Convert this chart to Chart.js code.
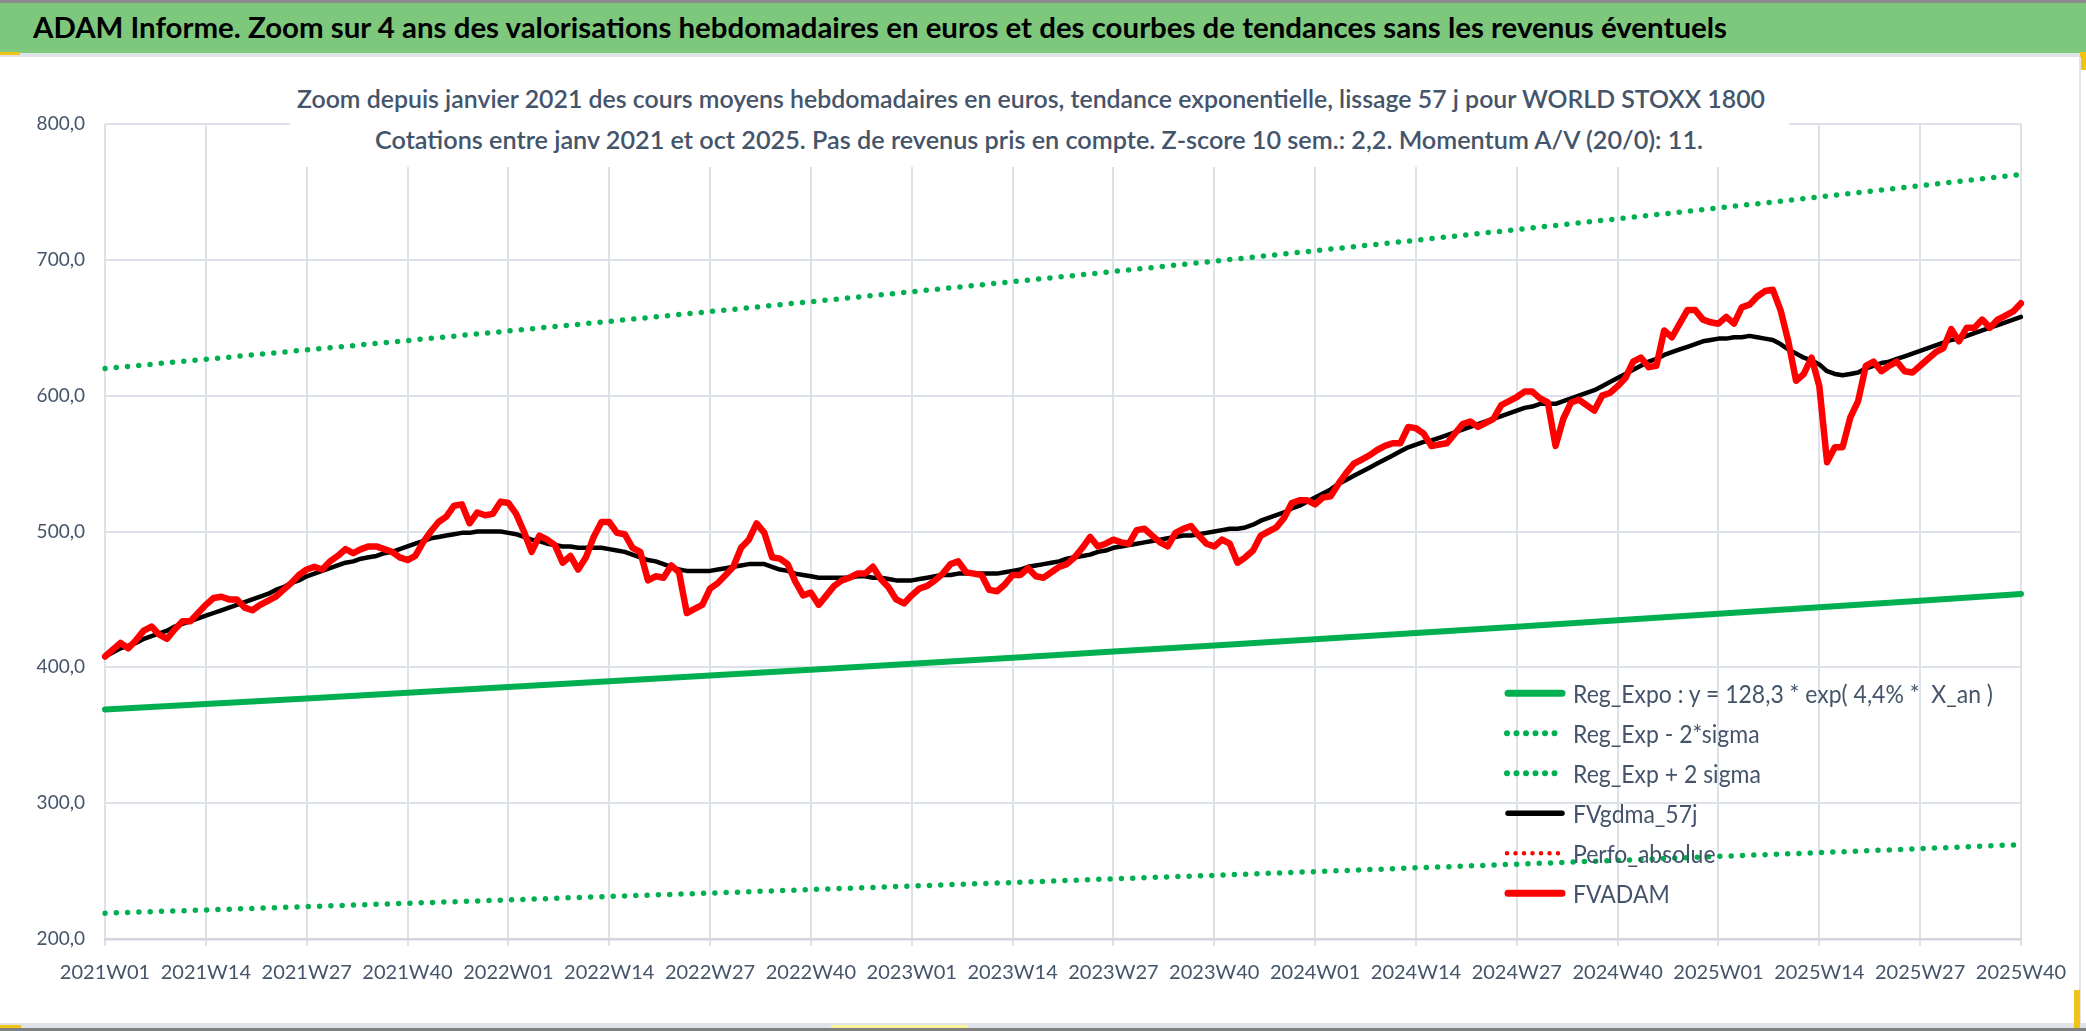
<!DOCTYPE html>
<html>
<head>
<meta charset="utf-8">
<script src="https://cdn.jsdelivr.net/npm/chart.js@4.4.1/dist/chart.umd.min.js"></script>
<style>
html, body { margin: 0; padding: 0; background: #fff; }
body { width: 2086px; height: 1031px; position: relative; overflow: hidden; font-family: Lato, 'Open Sans', sans-serif; }
#banner { position: absolute; left: 0; top: 0; width: 2086px; height: 53px; background: #7ec87e; border-top: 3px solid #8c8c8c; box-sizing: border-box; }
#sep { position: absolute; left: 0; top: 53px; width: 2086px; height: 4px; background: #dfe2e9; }
#chartBox { position: absolute; left: 0; top: 57px; width: 2086px; height: 970px; }
#titleMask { position: absolute; left: 290px; top: 70px; width: 1499px; height: 97px; background: #fff; }
.fit { position: absolute; white-space: pre; line-height: 1.2; transform-origin: 0 0; }
#bannerText { left: 33px; top: 10.2px; font-size: 29px; font-weight: 700; color: #000; }
.title { font-size: 25px; font-weight: 600; color: #44546a; }
#legend { position: absolute; left: 1500px; top: 673px; }
.row { position: relative; height: 40px; }
.row svg { position: absolute; left: 0; top: 0; }
.row span { position: absolute; left: 73px; top: 5.3px; font-size: 25px; line-height: 1.2; color: #44546a; white-space: pre; transform-origin: 0 0; }
.mark { position: absolute; background: #f2c314; }
#rightLine { position: absolute; left: 2079px; top: 57px; width: 2px; height: 970px; background: #dfe2e9; }
#bottomBand { position: absolute; left: 0; top: 1023px; width: 2086px; height: 5px; background: #dfe2e9; }
#bottomLine { position: absolute; left: 0; top: 1028px; width: 2086px; height: 3px; background: #808080; }
</style>
</head>
<body>
<div id="banner"></div>
<div id="bannerText" class="fit">ADAM Informe. Zoom sur 4 ans des valorisations hebdomadaires en euros et des courbes de tendances sans les revenus éventuels</div>
<div id="sep"></div>
<div class="mark" style="left:0;top:52px;width:20px;height:3px"></div>
<div class="mark" style="left:2080px;top:52px;width:6px;height:18px"></div>
<div id="chartBox"><canvas id="myChart" width="2086" height="970"></canvas></div>
<div id="rightLine"></div>
<div id="bottomBand"></div>
<div id="bottomLine"></div>
<div class="mark" style="left:0;top:1025px;width:21px;height:3px"></div>
<div class="mark" style="left:2074px;top:990px;width:6px;height:38px"></div>
<div class="mark" style="left:831px;top:1025px;width:137px;height:3px;background:#fbf39a"></div>
<div id="titleMask"></div>
<div id="title1" class="fit title">Zoom depuis janvier 2021 des cours moyens hebdomadaires en euros, tendance exponentielle, lissage 57 j pour WORLD STOXX 1800</div>
<div id="title2" class="fit title">Cotations entre janv 2021 et oct 2025. Pas de revenus pris en compte. Z-score 10 sem.: 2,2. Momentum A/V (20/0): 11.</div>
<div id="legend"></div>
<script>
// weekly categories 2021W01 .. 2025W40
var years = [2021, 2022, 2023, 2024, 2025];
var weeksPerYear = [52, 52, 52, 52, 40];
var weeks = [];
years.forEach(function (y, k) {
  for (var w = 1; w <= weeksPerYear[k]; w++) weeks.push(y + 'W' + (w < 10 ? '0' + w : w));
});

var tickLabels = ['2021W01', '2021W14', '2021W27', '2021W40', '2022W01', '2022W14', '2022W27', '2022W40',
  '2023W01', '2023W14', '2023W27', '2023W40', '2024W01', '2024W14', '2024W27', '2024W40',
  '2025W01', '2025W14', '2025W27', '2025W40'];

// trend lines, read at each labelled week
var regExpo = [369, 373.0, 377.1, 381.3, 385.5, 389.7, 394.0, 398.3, 402.7, 407.1,
  411.6, 416.1, 420.6, 425.2, 429.9, 434.6, 439.4, 444.2, 449.1, 454.0];
var regLow = [219, 221.4, 223.8, 226.3, 228.8, 231.3, 233.8, 236.4, 239.0, 241.6,
  244.3, 246.9, 249.6, 252.4, 255.1, 257.9, 260.8, 263.6, 266.5, 269.5];
var regHigh = [620, 626.8, 633.7, 640.6, 647.6, 654.7, 661.9, 669.2, 676.5, 683.9,
  691.4, 699.0, 706.7, 714.4, 722.3, 730.2, 738.2, 746.3, 754.5, 762.8];

// weekly values
var fvadam = [
  408, 413, 418, 414, 420, 427, 430, 424, 421, 428, 434, 434, 440, 446, 451, 452, 450, 450, 444, 442,
  446, 449, 452, 457, 462, 468, 472, 474, 472, 478, 482, 487, 484, 487, 489, 489, 487, 485, 481, 479,
  482, 492, 500, 507, 511, 519, 520, 506, 514, 512, 513, 522, 521, 513, 500, 485, 497, 494, 490, 477,
  482, 472, 481, 496, 507, 507, 499, 498, 488, 485, 464, 467, 466, 475, 470, 440, 443, 446, 458, 462,
  468, 474, 488, 494, 506, 499, 481, 480, 476, 463, 453, 455, 446, 453, 460, 464, 466, 469, 469, 474,
  465, 459, 450, 447, 453, 458, 460, 464, 469, 476, 478, 470, 469, 468, 457, 456, 461, 468, 468, 473,
  467, 466, 470, 474, 476, 481, 488, 496, 489, 491, 494, 492, 491, 501, 502, 497, 492, 489, 499, 502,
  504, 497, 491, 489, 494, 491, 477, 481, 486, 497, 500, 503, 510, 521, 523, 523, 520, 525, 526, 535,
  543, 550, 553, 556, 560, 563, 565, 565, 577, 576, 572, 563, 564, 565, 572, 579, 581, 577, 580, 583,
  593, 596, 599, 603, 603, 598, 595, 563, 583, 595, 597, 593, 589, 600, 602, 607, 613, 625, 628, 621,
  622, 648, 643, 653, 663, 663, 656, 654, 653, 658, 653, 665, 667, 673, 677, 678, 663, 640, 611, 616,
  628, 607, 551, 562, 562, 584, 596, 622, 625, 618, 622, 625, 618, 617, 622, 627, 632, 635, 649, 640,
  650, 650, 656, 650, 656, 659, 662, 668
];
var fvgdma = [
  408, 411, 414, 416, 418, 421, 423, 425, 427, 430, 432, 434, 436, 438, 440, 442, 444, 446, 448, 450,
  452, 454, 457, 459, 462, 464, 467, 469, 471, 473, 475, 477, 478, 480, 481, 482, 484, 485, 487, 489,
  491, 493, 495, 496, 497, 498, 499, 499, 500, 500, 500, 500, 499, 498, 496, 494, 493, 491, 490, 489,
  489, 488, 488, 488, 488, 487, 486, 485, 483, 481, 479, 478, 476, 474, 472, 471, 471, 471, 471, 472,
  473, 474, 475, 476, 476, 476, 474, 472, 471, 469, 468, 467, 466, 466, 466, 466, 466, 467, 467, 466,
  466, 465, 464, 464, 464, 465, 466, 467, 468, 468, 469, 469, 469, 469, 469, 469, 470, 471, 472, 474,
  475, 476, 477, 478, 480, 481, 482, 483, 485, 486, 488, 489, 490, 491, 492, 493, 494, 495, 496, 497,
  497, 498, 499, 500, 501, 502, 502, 503, 505, 508, 510, 512, 514, 517, 519, 522, 525, 528, 531, 535,
  538, 541, 544, 547, 550, 553, 556, 559, 562, 564, 566, 567, 569, 571, 573, 575, 577, 579, 581, 583,
  585, 587, 589, 591, 592, 594, 594, 594, 596, 598, 600, 602, 604, 607, 610, 613, 616, 619, 622, 625,
  627, 630, 632, 634, 636, 638, 640, 641, 642, 642, 643, 643, 644, 643, 642, 641, 638, 634, 631, 628,
  626, 623, 618, 616, 615, 616, 617, 620, 622, 624, 625, 627, 629, 631, 633, 635, 637, 639, 641, 642,
  644, 646, 648, 650, 652, 654, 656, 658
];

var green = '#00b050';
var textColor = '#44546a';
var gridColor = '#dde1e8';
var tickSet = new Set(tickLabels);

function atTicks(values) {
  return values.map(function (v, k) { return { x: tickLabels[k], y: v }; });
}

var ctx = document.getElementById('myChart');

var myChart = new Chart(ctx, {
  type: 'line',
  data: {
    labels: weeks,
    datasets: [
      { label: 'Reg_Expo : y = 128,3 * exp( 4,4% *  X_an )', data: atTicks(regExpo), borderColor: green, borderWidth: 6, order: 3 },
      { label: 'Reg_Exp - 2*sigma', data: atTicks(regLow), borderColor: green, borderWidth: 5.5, borderDash: [0, 11.3], order: 4 },
      { label: 'Reg_Exp + 2 sigma', data: atTicks(regHigh), borderColor: green, borderWidth: 5.5, borderDash: [0, 11.3], order: 5 },
      { label: 'FVgdma_57j', data: fvgdma, borderColor: '#000000', borderWidth: 4.5, order: 2 },
      { label: 'Perfo_absolue', data: [], borderColor: '#ff0000', borderWidth: 4, borderDash: [0, 8], order: 6 },
      { label: 'FVADAM', data: fvadam, borderColor: '#ff0000', borderWidth: 6.5, order: 1 }
    ]
  },
  options: {
    responsive: false,
    animation: false,
    devicePixelRatio: 1,
    layout: { padding: { top: 67, right: 65, left: 0, bottom: 0 } },
    elements: {
      point: { radius: 0, hoverRadius: 0 },
      line: { tension: 0, borderCapStyle: 'round', borderJoinStyle: 'round', fill: false }
    },
    plugins: {
      legend: { display: false },
      title: { display: false },
      tooltip: { enabled: false }
    },
    scales: {
      x: {
        type: 'category',
        offset: false,
        afterFit: function (scale) { scale.height = 88; },
        grid: {
          color: gridColor,
          tickColor: gridColor,
          lineWidth: 2,
          tickLength: 7,
          offset: false
        },
        border: { display: true, color: '#d3d6de', width: 2.5 },
        ticks: {
          autoSkip: false,
          maxRotation: 0,
          minRotation: 0,
          padding: 15,
          color: textColor,
          font: { family: 'Lato', size: 20 },
          // only the labelled weeks keep a tick, a label and a grid line
          callback: function (v) { return tickSet.has(weeks[v]) ? weeks[v] : null; }
        }
      },
      y: {
        min: 200,
        max: 800,
        afterFit: function (scale) { scale.width = 105; },
        grid: { color: gridColor, lineWidth: 2, drawTicks: false },
        border: { display: false },
        ticks: {
          stepSize: 100,
          padding: 20,
          color: textColor,
          font: { family: 'Lato', size: 19 },
          callback: function (v) { return v.toFixed(1).replace('.', ','); }
        }
      }
    }
  }
});

// legend drawn in html, from the chart's own datasets
var legendBox = document.getElementById('legend');
myChart.data.datasets.forEach(function (ds) {
  var row = document.createElement('div');
  row.className = 'row';
  var dotted = ds.borderDash && ds.borderDash.length;
  var w = ds.label === 'Perfo_absolue' ? 4.5 : (dotted ? 6 : (ds.borderColor === '#000000' ? 5.5 : 7));
  var dash = dotted ? ' stroke-dasharray="0 ' + (ds.label === 'Perfo_absolue' ? 8.5 : 9.5) + '"' : '';
  row.innerHTML = '<svg width="70" height="40"><line x1="' + (dotted ? 7 : 8) + '" y1="20.3" x2="' + (dotted ? 61 : 62) +
    '" y2="20.3" stroke="' + ds.borderColor + '" stroke-width="' + w + '" stroke-linecap="round"' + dash + '/></svg>' +
    '<span>' + ds.label + '</span>';
  legendBox.appendChild(row);
});

function fitTo(el, left, right) {
  el.style.transform = 'none';
  el.style.left = left + 'px';
  var r = el.getBoundingClientRect().width;
  el.style.transform = 'scaleX(' + ((right - left) / r) + ')';
}
fitTo(document.getElementById('bannerText'), 33, 1727);
var t1 = document.getElementById('title1');
var t2 = document.getElementById('title2');
t1.style.top = '82.6px';
t2.style.top = '124.3px';
fitTo(t1, 297, 1765);
fitTo(t2, 375, 1703);

var spans = legendBox.querySelectorAll('span');
var first = spans[0].getBoundingClientRect().width;
var k = 420 / first;
spans.forEach(function (s) { s.style.transform = 'scaleX(' + k + ')'; });
</script>
</body>
</html>
